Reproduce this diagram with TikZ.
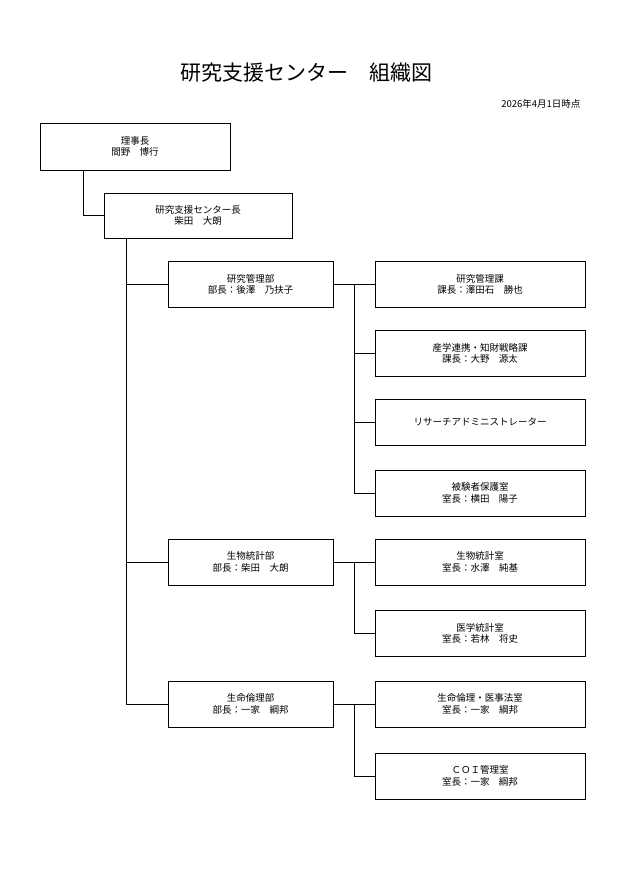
\documentclass[tikz,border=0pt]{standalone}
\usepackage{fontspec}
\setmainfont{Noto Sans CJK JP}
\usetikzlibrary{positioning}
\tikzset{
	box/.style={draw, line width=1pt, minimum height=46pt, inner sep=0pt, align=center, font=\fontsize{9.5}{11.5}\selectfont},
	dept/.style={box, minimum width=165pt},
	sect/.style={box, minimum width=210pt},
	link/.style={line width=1pt},
}
\begin{document}
\begin{tikzpicture}[x=1pt, y=-1pt]
\useasboundingbox (0,0) rectangle (618,875);

% title
\node[font=\fontsize{21}{24}\selectfont] (title) at (306,73) {研究支援センター\quad 組織図};
\node[anchor=east, font=\fontsize{9.5}{11}\selectfont] (date) at (584,104) {2026年4月1日時点};

% top
\node[box, minimum width=190pt, minimum height=47pt] (chair) at (135,146.5) {理事長\\間野\quad 博行};
\node[box, minimum width=188pt, minimum height=45pt] (head) at (198,215.5) {研究支援センター長\\柴田\quad 大朗};

% departments
\node[dept] (kanri) at (250.5,284.5) {研究管理部\\部長：後澤\quad 乃扶子};
\node[dept] (toukei) at (250.5,562) {生物統計部\\部長：柴田\quad 大朗};
\node[dept] (rinri) at (250.5,704) {生命倫理部\\部長：一家\quad 綱邦};

% sections
\node[sect] (ka1) at (480,284.5) {研究管理課\\課長：澤田石\quad 勝也};
\node[sect] (ka2) at (480,353.5) {産学連携・知財戦略課\\課長：大野\quad 源太};
\node[sect] (ura) at (480,422) {リサーチアドミニストレーター};
\node[sect] (hoken) at (480,493) {被験者保護室\\室長：横田\quad 陽子};
\node[sect] (st1) at (480,562) {生物統計室\\室長：水澤\quad 純基};
\node[sect] (st2) at (480,633.5) {医学統計室\\室長：若林\quad 将史};
\node[sect] (ri1) at (480,704) {生命倫理・医事法室\\室長：一家\quad 綱邦};
\node[sect] (ri2) at (480,776) {ＣＯＩ管理室\\室長：一家\quad 綱邦};

% connectors
\coordinate (cv) at (83,0);
\coordinate (mv) at (126,0);
\coordinate (sv) at (354,0);
\draw[link] (chair.south -| cv) |- (head.west);
\draw[link] (head.south -| mv) |- (rinri.west);
\foreach \d in {kanri, toukei} {
	\draw[link] (\d.west -| mv) -- (\d.west);
}
\draw[link] (kanri.east) -- (ka1.west);
\draw[link] (kanri.east -| sv) |- (hoken.west);
\foreach \s in {ka2, ura} {
	\draw[link] (\s.west -| sv) -- (\s.west);
}
\draw[link] (toukei.east) -- (st1.west);
\draw[link] (toukei.east -| sv) |- (st2.west);
\draw[link] (rinri.east) -- (ri1.west);
\draw[link] (rinri.east -| sv) |- (ri2.west);
\end{tikzpicture}
\end{document}
